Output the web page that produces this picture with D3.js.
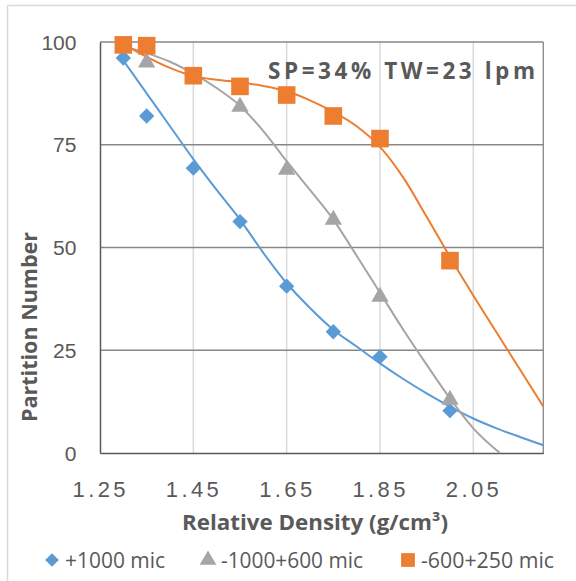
<!DOCTYPE html>
<html>
<head>
<meta charset="utf-8">
<script src="https://cdn.jsdelivr.net/npm/d3@7/dist/d3.min.js"></script>
<style>
    html, body { margin: 0; padding: 0; background: #fff; }
    svg { display: block; font-family: "Open Sans", Lato, sans-serif; }
</style>
</head>
<body>
<div id="chart"></div>
<script>
// measured points (relative density vs partition number)
var densities = [1.30, 1.35, 1.45, 1.55, 1.65, 1.75, 1.85, 2.00];
var pnPlus1000 = [96.1, 82, 69.3, 56.3, 40.6, 29.5, 23.4, 10.3];
var densities600 = [1.35, 1.55, 1.65, 1.75, 1.85, 2.00];
var pn1000to600 = [95.4, 84.6, 69.3, 57.1, 38.4, 13.3];
var pn600to250 = [99.3, 99.1, 91.8, 89.2, 87.1, 82, 76.5, 46.8];

// fitted curves
var fitDensity = [1.30, 1.35, 1.40, 1.45, 1.50, 1.55, 1.60, 1.65, 1.70, 1.75,
    1.80, 1.85, 1.90, 1.95, 2.00, 2.05, 2.10, 2.15, 2.20];
var fitPlus1000 = [95.5, 87.5, 79.5, 71.5, 64, 56.8, 48.7, 41.3, 35.3, 30,
    25.9, 21.8, 18, 14.5, 11.3, 8.4, 6, 3.9, 1.9];
var fitDensity600 = [1.30, 1.35, 1.40, 1.45, 1.50, 1.55, 1.60, 1.65, 1.70, 1.75,
    1.80, 1.85, 1.90, 1.95, 2.00, 2.05, 2.107];
var fit1000to600 = [99, 97.3, 95.2, 92.3, 88.8, 84.5, 78.3, 71, 64, 56.8,
    48, 39, 30, 21.5, 13.3, 6, 0];
var fit600to250 = [99.5, 96.4, 93.7, 91.7, 90.8, 90.2, 89.3, 88, 85.8, 83,
    79.5, 74.5, 67, 57.5, 47.7, 38.3, 29.3, 20.3, 11.3];

var xTicks = [1.25, 1.45, 1.65, 1.85, 2.05];
var yTicks = [0, 25, 50, 75, 100];
var legendLabels = ['+1000 mic', '-1000+600 mic', '-600+250 mic'];

(function (d3) {
    'use strict';

    var width = 576,
        height = 581,
        textColor = '#595959',
        colors = ['#5b9bd5', '#a5a5a5', '#ed7d31'];

    var svg = d3.select('#chart')
        .append('svg')
        .attr('width', width)
        .attr('height', height);

    // chart frame
    svg.append('rect')
        .attr('x', 7.5)
        .attr('y', 5.5)
        .attr('width', 600)
        .attr('height', 600)
        .attr('fill', 'none')
        .attr('stroke', '#d9d9d9')
        .attr('stroke-width', 1.5);

    var x = d3.scaleLinear().domain([1.25, 2.2]).range([100, 543.3]),
        y = d3.scaleLinear().domain([0, 100]).range([453, 42]);

    // vertical grid
    svg.append('g')
        .selectAll('line')
        .data(xTicks.slice(1))
        .enter()
        .append('line')
        .attr('x1', function(d) { return x(d); })
        .attr('x2', function(d) { return x(d); })
        .attr('y1', y(0))
        .attr('y2', y(100))
        .attr('stroke', '#d9d9d9')
        .attr('stroke-width', 1.5);

    // horizontal grid
    svg.append('g')
        .selectAll('line')
        .data(yTicks.slice(1))
        .enter()
        .append('line')
        .attr('x1', x(1.25))
        .attr('x2', x(2.2))
        .attr('y1', function(d) { return y(d); })
        .attr('y2', function(d) { return y(d); })
        .attr('stroke', '#878787')
        .attr('stroke-width', 1.3);

    // right border
    svg.append('line')
        .attr('x1', x(2.2)).attr('x2', x(2.2))
        .attr('y1', y(0)).attr('y2', y(100))
        .attr('stroke', '#878787')
        .attr('stroke-width', 1.3);

    // axes
    var xAxis = d3.axisBottom(x).tickValues(xTicks).tickSize(0).tickFormat(d3.format('.2f'));
    var yAxis = d3.axisLeft(y).tickValues(yTicks).tickSize(0);

    var gx = svg.append('g')
        .attr('transform', 'translate(0,' + y(0) + ')')
        .call(xAxis);
    gx.select('.domain').attr('stroke', '#595959').attr('stroke-width', 1.5);
    gx.selectAll('text')
        .attr('fill', textColor)
        .attr('y', 44)
        .attr('dy', 0)
        .attr('dx', '-1.5px')
        .attr('textLength', 53)
        .attr('lengthAdjust', 'spacing')
        .style('font-size', '22px')
        .style('font-weight', 300);

    var gy = svg.append('g')
        .attr('transform', 'translate(' + x(1.25) + ',0)')
        .call(yAxis);
    gy.select('.domain').attr('stroke', '#595959').attr('stroke-width', 1.5);
    gy.selectAll('text')
        .attr('fill', textColor)
        .attr('x', -23.5)
        .attr('dy', '0.36em')
        .attr('textLength', function(d) { return String(d).length * 11.7; })
        .attr('lengthAdjust', 'spacingAndGlyphs')
        .style('font-size', '19.5px');
    svg.selectAll('.tick line').remove();

    // fitted curves
    var line = d3.line()
        .x(function(d) { return x(d[0]); })
        .y(function(d) { return y(d[1]); })
        .curve(d3.curveMonotoneX);

    var fits = [
        d3.zip(fitDensity, fitPlus1000),
        d3.zip(fitDensity600, fit1000to600),
        d3.zip(fitDensity, fit600to250)
    ];

    svg.append('g')
        .selectAll('path')
        .data(fits)
        .enter()
        .append('path')
        .attr('d', line)
        .attr('fill', 'none')
        .attr('stroke', function(d, i) { return colors[i]; })
        .attr('stroke-width', 2);

    // markers
    var shapes = [
        d3.symbol().type(d3.symbolDiamond2).size(150),
        d3.symbol().type(d3.symbolTriangle).size(130),
        d3.symbol().type(d3.symbolSquare).size(310)
    ];

    var series = [
        d3.zip(densities, pnPlus1000),
        d3.zip(densities600, pn1000to600),
        d3.zip(densities, pn600to250)
    ];

    series.forEach(function(points, i) {
        svg.append('g')
            .selectAll('path')
            .data(points)
            .enter()
            .append('path')
            .attr('transform', function(d) {
                var dy = i === 1 ? 1.5 : 0;
                return 'translate(' + x(d[0]) + ',' + (y(d[1]) + dy) + ')';
            })
            .attr('d', shapes[i])
            .attr('fill', colors[i]);
    });

    // annotation
    svg.append('text')
        .attr('x', 268)
        .attr('y', 78.5)
        .attr('fill', textColor)
        .attr('textLength', 267)
        .attr('lengthAdjust', 'spacing')
        .style('font-size', '22.5px')
        .style('font-weight', 'bold')
        .text('SP=34% TW=23 lpm');

    // axis titles
    svg.append('text')
        .attr('x', 182)
        .attr('y', 530)
        .attr('fill', textColor)
        .attr('textLength', 266)
        .attr('lengthAdjust', 'spacingAndGlyphs')
        .style('font-size', '21px')
        .style('font-weight', 'bold')
        .text('Relative Density (g/cm\u00b3)');

    svg.append('text')
        .attr('transform', 'translate(37,422) rotate(-90)')
        .attr('fill', textColor)
        .attr('textLength', 190)
        .attr('lengthAdjust', 'spacingAndGlyphs')
        .style('font-size', '21px')
        .style('font-weight', 'bold')
        .text('Partition Number');

    // legend
    var legendX = [52, 208, 408],
        legendWidths = [100, 142, 133],
        legendShapes = [
            d3.symbol().type(d3.symbolDiamond2).size(120),
            d3.symbol().type(d3.symbolTriangle).size(120),
            d3.symbol().type(d3.symbolSquare).size(190)
        ];

    var legend = svg.append('g')
        .selectAll('g')
        .data(legendLabels)
        .enter()
        .append('g')
        .attr('transform', function(d, i) { return 'translate(' + legendX[i] + ',560)'; });

    legend.append('path')
        .attr('d', function(d, i) { return legendShapes[i](); })
        .attr('fill', function(d, i) { return colors[i]; });

    legend.append('text')
        .attr('x', 13)
        .attr('y', 8)
        .attr('fill', textColor)
        .attr('textLength', function(d, i) { return legendWidths[i]; })
        .attr('lengthAdjust', 'spacingAndGlyphs')
        .style('font-size', '21px')
        .text(function(d) { return d; });

})(d3);
</script>
</body>
</html>
